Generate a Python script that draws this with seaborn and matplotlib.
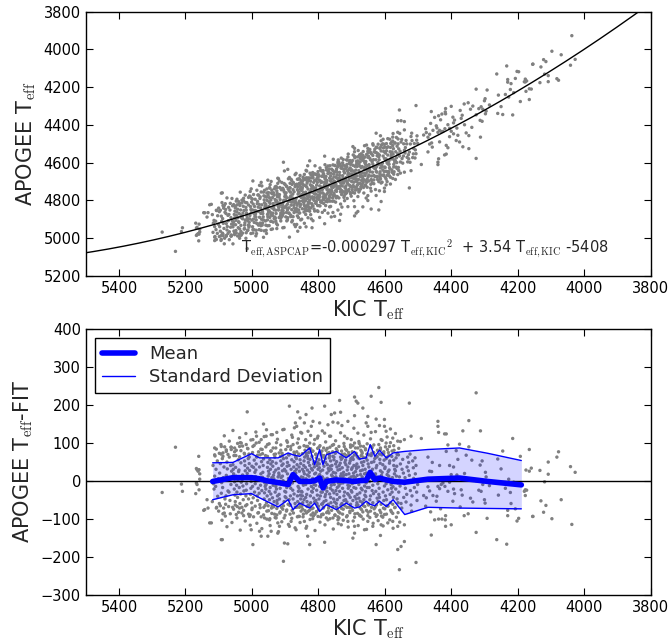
import numpy as np
import pandas as pd
import matplotlib
matplotlib.use('Agg')
import matplotlib.pyplot as plt
import seaborn as sns
from matplotlib.lines import Line2D

# ── Fit coefficients (as printed on the chart) ───────────────────────────────
fit_a, fit_b, fit_c = -0.000297, 3.54, -5408

# ── Stars: (KIC Teff, APOGEE Teff - FIT) ─────────────────────────────────────
hot_stars = [
    (5270, -31), (5230, 88), (5212, -9), (5209, -28), (5160, 64), (5167, 32),
    (5162, 25), (5157, 18), (5167, -6), (5159, -24), (5145, -78), (5127, -111),
    (5135, -50), (5089, -155), (5112, 86), (5165, 29), (5159, 29), (5157, 4),
    (5165, -10), (5169, -34), (5142, -76), (5132, -72), (5122, -111), (5092, -155),
]

outer_stars = [
    (4887, 196), (5014, 181), (4862, 181), (4965, 149), (4869, 152), (4865, 143),
    (4872, 139), (4855, 165), (4842, 152), (4837, 174), (4907, 134), (4925, 127),
    (4942, 121), (4957, 117), (4972, 108), (4987, 99), (4997, 108), (5017, 95),
    (5032, 99), (5037, 90), (5052, 86), (5082, 89), (5092, 90), (5107, 83),
    (5112, 68), (5087, 73), (5077, 77), (5062, 82), (4986, 117), (4956, 134),
    (4880, 120), (4860, 110), (4850, 125), (4895, 105),
    (4997, -168), (4905, -212), (5107, -72), (5087, -87), (5047, -89), (5037, -72),
    (5007, -94), (5002, -129), (4977, -133), (4972, -146), (4952, -146), (4942, -133),
    (4922, -111), (4917, -120), (4922, -138), (4902, -164), (4892, -166), (4947, -103),
    (4962, -98), (4927, -98), (4887, -120), (4882, -107), (4867, -129), (4857, -94),
    (4842, -107), (4832, -146), (4837, -125),
    (4691, 220), (4641, 222), (4611, 206), (4736, 211), (4681, 204), (4819, 191),
    (4781, 196), (4751, 178), (4761, 174), (4733, 180), (4666, 191), (4691, 171),
    (4651, 169), (4626, 162), (4601, 161), (4526, 204), (4816, 156), (4821, 143),
    (4831, 130), (4796, 152), (4771, 147), (4756, 154), (4741, 152), (4729, 145),
    (4711, 156), (4681, 125), (4656, 152), (4651, 143), (4641, 127), (4616, 145),
    (4601, 143), (4596, 130), (4583, 136), (4576, 112), (4561, 104), (4541, 108),
    (4521, 117), (4781, 125), (4766, 117), (4801, 117), (4811, 108), (4826, 99),
    (4836, 90), (4721, 117), (4701, 108), (4691, 99), (4611, 108), (4596, 99),
    (4618, 245), (4686, 209),
    (4831, -81), (4816, -85), (4801, -94), (4786, -89), (4771, -103), (4756, -98),
    (4741, -103), (4731, -116), (4711, -107), (4691, -120), (4671, -94), (4651, -107),
    (4636, -120), (4611, -116), (4591, -111), (4576, -107), (4561, -120), (4541, -116),
    (4626, -94), (4601, -89), (4826, -168), (4781, -162), (4696, -151), (4691, -138),
    (4661, -129), (4613, -144), (4626, -168), (4551, -173), (4561, -181), (4541, -160),
    (4556, -234), (4506, -215),
]

wing_stars = [
    (5098, 72), (5093, 95), (5087, 64), (5083, 118), (5077, 81), (5072, 69), (5068, 104), (5063, 88), (5057, 132), (5052, 76),
    (5048, 66), (5043, 98), (5037, 113), (5033, 79), (5028, 91), (5022, 70), (5018, 124), (5013, 85), (5008, 62), (5003, 107),
    (4998, 74), (4993, 93), (4988, 128), (4983, 67), (4978, 101), (4973, 83), (4968, 71), (4963, 116), (4958, 89), (4953, 64),
    (4948, 97), (4943, 78), (4938, 121), (4933, 69), (4928, 86), (4923, 109), (4918, 73), (4913, 94), (4908, 66), (4903, 135),
    (4898, 82), (4893, 101), (4888, 68), (4883, 90), (4878, 114), (4873, 75), (4868, 63), (4863, 99), (4858, 87), (4853, 127),
    (4848, 71), (4843, 92), (4838, 108), (4833, 65), (4828, 84), (4823, 119), (4818, 77), (4813, 96), (4808, 69), (4803, 112),
    (4798, 88), (4793, 73), (4788, 131), (4783, 66), (4778, 102), (4773, 85), (4768, 74), (4763, 117), (4758, 93), (4753, 62),
    (4748, 105), (4743, 79), (4738, 90), (4733, 126), (4728, 70), (4723, 98), (4718, 83), (4713, 111), (4708, 67), (4703, 94),
    (4698, 76), (4693, 138), (4688, 86), (4683, 64), (4678, 103), (4673, 91), (4668, 72), (4663, 120), (4658, 81), (4653, 97),
    (4648, 68), (4643, 110), (4638, 87), (4633, 74), (4628, 129), (4623, 63), (4618, 95), (4613, 82), (4608, 106), (4603, 71),
    (4598, 89), (4593, 115), (4588, 66), (4583, 100), (4578, 78), (4573, 92), (4568, 124), (4563, 69), (4558, 85), (4553, 103),
    (5100, -80), (5095, -66), (5090, -104), (5085, -72), (5080, -93), (5075, -121), (5070, -68), (5065, -87), (5060, -110), (5055, -75),
    (5050, -64), (5045, -98), (5040, -83), (5035, -130), (5030, -70), (5025, -92), (5020, -106), (5015, -63), (5010, -88), (5005, -117),
    (5000, -76), (4995, -95), (4990, -67), (4985, -112), (4980, -84), (4975, -71), (4970, -126), (4965, -90), (4960, -65), (4955, -101),
    (4950, -79), (4945, -118), (4940, -86), (4935, -69), (4930, -97), (4925, -73), (4920, -134), (4915, -82), (4910, -108), (4905, -66),
    (4900, -91), (4895, -77), (4890, -115), (4885, -63), (4880, -99), (4875, -85), (4870, -124), (4865, -70), (4860, -94), (4855, -110),
    (4850, -68), (4845, -88), (4840, -79), (4835, -120), (4830, -64), (4825, -102), (4820, -74), (4815, -93), (4810, -131), (4805, -81),
    (4800, -67), (4795, -109), (4790, -89), (4785, -72), (4780, -116), (4775, -84), (4770, -62), (4765, -100), (4760, -78), (4755, -127),
    (4750, -91), (4745, -69), (4740, -113), (4735, -85), (4730, -73), (4725, -104), (4720, -66), (4715, -95), (4710, -122), (4705, -80),
    (4700, -71), (4695, -106), (4690, -87), (4685, -65), (4680, -118), (4675, -92), (4670, -76), (4665, -101), (4660, -68), (4655, -128),
    (4650, -83), (4645, -97), (4640, -70), (4635, -112), (4630, -86), (4625, -64), (4620, -105), (4615, -78), (4610, -93), (4605, -119),
    (4600, -74), (4595, -88), (4590, -67), (4585, -103), (4580, -82), (4575, -125), (4570, -71), (4565, -96), (4560, -84), (4555, -109),
]

cool_stars = [
    (4325, 231), (4440, 156), (4347, 158), (4440, 143), (4438, 127), (4420, 123),
    (4415, 123), (4365, 131), (4312, 131), (4490, 111), (4215, 111), (4410, 94),
    (4375, 96), (4347, 89), (4165, 82), (4077, 76), (4245, 78), (4415, 77),
    (4385, 79), (4192, 64), (4082, 62), (4470, 62), (4355, 67), (4338, 54),
    (4307, 52), (4380, 56), (4457, 48), (4260, 57), (4108, 49), (4435, 40),
    (4405, 40), (4393, 36), (4313, 41), (4159, 33), (4175, 28), (4165, 25),
    (4133, 27), (4108, 17), (4250, 31), (4465, 25), (4459, 24), (4297, 22),
    (4295, 10), (4360, 19), (4383, 15), (4400, 16), (4425, -6), (4430, -10),
    (4419, -15), (4405, -4), (4325, 0), (4305, -10), (4285, -13), (4227, 4),
    (4212, -4), (4470, -16), (4435, -21), (4440, -15), (4465, -27), (4455, -39),
    (4443, -41), (4483, -39), (4475, -45), (4410, -28), (4393, -22), (4390, -34),
    (4370, -24), (4367, -38), (4342, -46), (4335, -56), (4317, -25), (4310, -28),
    (4300, -50), (4298, -59), (4258, -38), (4237, -20), (4222, -31), (4177, -24),
    (4173, -25), (4180, -28), (4177, -39), (4119, -3), (4445, -54), (4395, -54),
    (4477, -67), (4432, -74), (4373, -69), (4220, -60), (4207, -74), (4230, -78),
    (4130, -53), (4115, -65), (4069, -50), (4462, -82), (4361, -92), (4349, -87),
    (4230, -92), (4155, -94), (4122, -83), (4417, -92), (4450, -103), (4438, -101),
    (4428, -101), (4418, -103), (4400, -116), (4417, -120), (4292, -99), (4202, -106),
    (4197, -99), (4097, -100), (4460, -143), (4325, -136), (4263, -155), (4233, -167),
    (4041, 37), (4027, 22), (4037, -115), (4154, -94),
]

core_stars = [
    # 5120 - 5060
    (5117, 40), (5114, -22), (5112, 12), (5119, -55), (5111, 65), (5116, -8),
    (5108, 30), (5103, -41), (5101, 5), (5106, -70), (5104, 52), (5109, -15),
    (5097, 20), (5092, -33), (5095, 45), (5091, -5), (5098, -60), (5093, 70),
    (5088, -18), (5084, 36), (5081, -48), (5086, 8), (5089, 58), (5083, -85),
    (5077, 14), (5072, -27), (5075, 49), (5079, -62), (5071, 2), (5074, 31), (5078, -40),
    (5068, 62), (5063, -10), (5061, 25), (5066, -52), (5064, 40), (5069, -30), (5062, 88),
    # 5060 - 4960
    (5058, -70), (5055, 18), (5052, -3), (5057, 42), (5051, -38), (5059, 9), (5054, 66), (5053, -22), (5056, 30), (5050, -55),
    (5048, 12), (5043, -44), (5041, 55), (5046, -12), (5049, 35), (5044, -68), (5042, 2), (5047, 80), (5045, -30), (5040, 24),
    (5038, -18), (5033, 47), (5036, -60), (5031, 8), (5039, 28), (5034, -35), (5037, 63), (5032, -4), (5035, 100), (5030, -85),
    (5028, 15), (5024, -27), (5021, 40), (5026, -50), (5029, 3), (5023, 72), (5027, -14), (5022, 52), (5025, -78), (5020, 26),
    (5018, -40), (5013, 33), (5016, -8), (5011, 58), (5019, -66), (5014, 19), (5017, -25), (5012, 84), (5015, 6), (5010, -48),
    (5008, 45), (5003, -20), (5006, 10), (5001, -58), (5009, 70), (5004, -36), (5007, 27), (5002, -2), (5005, -90), (5000, 38),
    (4998, -15), (4993, 54), (4996, -45), (4991, 22), (4999, -72), (4994, 5), (4997, 90), (4992, -30), (4995, 35), (4990, -8),
    (4988, 28), (4983, -52), (4986, 62), (4981, -20), (4989, 11), (4984, -40), (4987, 44), (4982, -85), (4985, 0), (4980, 76),
    (4978, -33), (4973, 18), (4976, -63), (4971, 50), (4979, 4), (4974, -12), (4977, 36), (4972, -95), (4975, 68), (4970, -26),
    (4968, 9), (4963, -48), (4966, 40), (4961, -6), (4969, 82), (4964, -70), (4967, 22), (4962, -32), (4965, 57), (4960, -15),
    # 4960 - 4860
    (4958, -22), (4953, 35), (4956, -58), (4951, 12), (4959, 66), (4954, -40), (4957, 2), (4952, 48), (4955, -80), (4950, 25), (4957, -10), (4953, 95), (4951, -66),
    (4948, 18), (4943, -35), (4946, 55), (4941, -72), (4949, -4), (4944, 30), (4947, -50), (4942, 78), (4945, -18), (4940, 8), (4946, -100), (4943, 44), (4948, -28),
    (4938, -45), (4933, 22), (4936, -12), (4931, 62), (4939, -66), (4934, 5), (4937, 38), (4932, -88), (4935, 14), (4930, -30), (4936, 86), (4933, -55), (4938, 50),
    (4928, 28), (4924, -60), (4921, 10), (4926, -22), (4929, 70), (4923, -40), (4927, 46), (4922, -8), (4925, -90), (4920, 32), (4926, 100), (4924, -52), (4928, -15),
    (4918, -36), (4913, 52), (4916, -2), (4911, -70), (4919, 20), (4914, 64), (4917, -48), (4912, 8), (4915, -20), (4910, 40), (4916, -85), (4913, 80), (4918, 15),
    (4908, 12), (4903, -55), (4906, 44), (4901, -28), (4909, 72), (4904, -10), (4907, -75), (4902, 30), (4905, 58), (4900, -42), (4906, 0), (4903, -98), (4908, 26),
    (4898, -30), (4893, 18), (4896, 60), (4891, -62), (4899, -8), (4894, 38), (4897, -45), (4892, 90), (4895, -18), (4890, 6), (4896, -80), (4893, 48), (4898, 25),
    (4888, 40), (4883, -20), (4886, -65), (4881, 14), (4889, 68), (4884, -40), (4887, 2), (4882, 30), (4885, -88), (4880, 55), (4886, -12), (4883, 82), (4888, -50),
    (4878, -6), (4873, 50), (4876, -48), (4871, 24), (4879, -78), (4874, 36), (4877, -25), (4872, 70), (4875, 8), (4870, -60), (4876, 95), (4873, -35), (4878, 16),
    (4868, 20), (4863, -40), (4866, 58), (4861, -15), (4869, -70), (4864, 42), (4867, 4), (4862, -55), (4865, 76), (4860, -28), (4866, 30), (4863, -95), (4868, 62),
    # 4860 - 4650
    (4858, -20), (4853, 45), (4856, -62), (4851, 10), (4859, 70), (4854, -38), (4857, 25), (4852, -80), (4855, 55), (4850, -5), (4856, 88), (4853, -48), (4858, 36), (4851, -28), (4854, 2), (4857, -70),
    (4848, 30), (4843, -50), (4846, 8), (4841, 62), (4849, -30), (4844, 40), (4847, -75), (4842, 18), (4845, -12), (4840, 80), (4846, -95), (4843, 52), (4848, -40), (4841, 0), (4844, 24), (4847, -58),
    (4838, -44), (4833, 15), (4836, 66), (4831, -22), (4839, 35), (4834, -68), (4837, 5), (4832, 90), (4835, -36), (4830, 48), (4836, -85), (4833, 28), (4838, -10), (4831, 58), (4834, -55), (4837, 72),
    (4828, 12), (4823, -58), (4826, 40), (4821, -15), (4829, 74), (4824, -40), (4827, 22), (4822, -90), (4825, 56), (4820, -28), (4826, 0), (4823, 84), (4828, -66), (4821, 32), (4824, -5), (4827, -78),
    (4818, -30), (4813, 50), (4816, -72), (4811, 18), (4819, 64), (4814, -46), (4817, 6), (4812, 36), (4815, -20), (4810, -88), (4816, 78), (4813, -10), (4818, 28), (4811, -55), (4814, 44), (4817, -100),
    (4808, 20), (4803, -38), (4806, 60), (4801, -68), (4809, 2), (4804, 40), (4807, -52), (4802, 85), (4805, -25), (4800, 12), (4806, -82), (4803, 48), (4808, -12), (4801, 30), (4804, -60), (4807, 70),
    (4798, -48), (4793, 25), (4796, -15), (4791, 68), (4799, -76), (4794, 8), (4797, 44), (4792, -30), (4795, 92), (4790, -62), (4796, 16), (4793, -95), (4798, 55), (4791, -5), (4794, -40), (4797, 34),
    (4788, 10), (4783, -55), (4786, 50), (4781, -22), (4789, 78), (4784, -70), (4787, 28), (4782, -8), (4785, 62), (4780, -42), (4786, -88), (4783, 38), (4788, -30), (4781, 4), (4784, 86), (4787, -60),
    (4778, -36), (4773, 42), (4776, -2), (4771, -80), (4779, 58), (4774, 20), (4777, -52), (4772, 72), (4775, -18), (4770, 32), (4776, -98), (4773, 6), (4778, 48), (4771, -64), (4774, -28), (4777, 80),
    (4768, 26), (4763, -44), (4766, 66), (4761, -12), (4769, -72), (4764, 38), (4767, 0), (4762, -58), (4765, 88), (4760, 15), (4766, -35), (4763, 52), (4768, -85), (4761, 30), (4764, -20), (4767, 60),
    (4758, -25), (4753, 55), (4756, -68), (4751, 8), (4759, 40), (4754, -48), (4757, 76), (4752, -10), (4755, 22), (4750, -90), (4756, 64), (4753, -32), (4758, 12), (4751, -56), (4754, 95), (4757, -4),
    (4748, 44), (4743, -18), (4746, -60), (4741, 28), (4749, 72), (4744, -36), (4747, 10), (4742, -78), (4745, 50), (4740, -6), (4746, 84), (4743, -50), (4748, 20), (4741, -95), (4744, 36), (4747, -26),
    (4738, -14), (4733, 62), (4736, -44), (4731, 18), (4739, -82), (4734, 46), (4737, 2), (4732, -64), (4735, 30), (4730, 78), (4736, -28), (4733, 12), (4738, -98), (4731, 56), (4734, -8), (4737, 40),
    (4728, 34), (4723, -40), (4726, 8), (4721, 70), (4729, -60), (4724, 22), (4727, -20), (4722, 90), (4725, -75), (4720, 48), (4726, -6), (4723, -52), (4728, 60), (4721, -30), (4724, 14), (4727, -88),
    (4718, -50), (4713, 28), (4716, 66), (4711, -12), (4719, 4), (4714, -70), (4717, 42), (4712, -34), (4715, 80), (4710, -20), (4716, 16), (4713, -92), (4718, 54), (4711, 36), (4714, -56), (4717, -2),
    (4708, 18), (4703, -62), (4706, 46), (4701, -26), (4709, 74), (4704, -44), (4707, 6), (4702, 58), (4705, -84), (4700, 30), (4706, -14), (4703, 88), (4708, -38), (4701, 10), (4704, 52), (4707, -70),
    (4698, -8), (4693, 40), (4696, -52), (4691, 68), (4699, -30), (4694, 20), (4697, -78), (4692, 4), (4695, 56), (4690, -42), (4696, 92), (4693, -18), (4698, 34), (4691, -96), (4694, 12), (4697, 62),
    (4688, 24), (4683, -36), (4686, 72), (4681, -64), (4689, 8), (4684, 44), (4687, -20), (4682, -86), (4685, 32), (4680, 60), (4686, -48), (4683, 14), (4688, -4), (4681, 86), (4684, -58), (4687, 38),
    (4678, -46), (4673, 16), (4676, 58), (4671, -20), (4679, 36), (4674, -72), (4677, 2), (4672, 80), (4675, -32), (4670, 48), (4676, -90), (4673, 26), (4678, -10), (4671, 66), (4674, -54), (4677, 98),
    (4668, 10), (4663, -50), (4666, 40), (4661, -14), (4669, 76), (4664, -66), (4667, 28), (4662, -2), (4665, 62), (4660, -38), (4666, -82), (4663, 50), (4668, -24), (4661, 18), (4664, 90), (4667, -58),
    (4658, -28), (4653, 54), (4656, -6), (4651, -60), (4659, 30), (4654, 70), (4657, -42), (4652, 12), (4655, -78), (4650, 44), (4656, 20), (4653, -18), (4658, 84), (4651, -92), (4654, 4), (4657, 60),
    # 4650 - 4560
    (4648, 36), (4643, -40), (4646, 8), (4641, 66), (4649, -64), (4644, 22), (4647, -18), (4642, 90), (4645, -50), (4640, 48), (4646, -2), (4643, -80),
    (4638, -26), (4633, 50), (4636, -58), (4631, 14), (4639, 72), (4634, -34), (4637, 30), (4632, -74), (4635, 4), (4630, 58), (4636, -12), (4633, 94),
    (4628, 18), (4623, -46), (4626, 62), (4621, -8), (4629, -70), (4624, 40), (4627, -28), (4622, 80), (4625, 10), (4620, -54), (4626, 34), (4623, -90),
    (4618, -36), (4613, 26), (4616, 70), (4611, -62), (4619, 4), (4614, 46), (4617, -20), (4612, -84), (4615, 56), (4610, 14), (4616, -44), (4613, 86),
    (4608, 22), (4603, -52), (4606, 42), (4601, -14), (4609, 68), (4604, -72), (4607, 6), (4602, 54), (4605, -30), (4600, 32), (4606, -96), (4603, 76),
    (4598, -40), (4593, 16), (4596, 58), (4591, -24), (4599, 36), (4594, -66), (4597, 0), (4592, 82), (4595, -50), (4590, 24), (4596, -8), (4593, 62),
    (4588, 12), (4583, -58), (4586, 46), (4581, -10), (4589, 74), (4584, -36), (4587, 28), (4582, -78), (4585, 52), (4580, -20), (4586, 90), (4583, 4),
    (4578, -30), (4573, 40), (4576, -62), (4571, 18), (4579, 64), (4574, -44), (4577, 8), (4572, 80), (4575, -16), (4570, 30), (4576, -86), (4573, 54),
    (4568, 26), (4563, -48), (4566, 60), (4561, -6), (4569, -70), (4564, 38), (4567, -22), (4562, 72), (4565, 12), (4560, -58),
    # 4560 - 4500
    (4558, -30), (4553, 44), (4556, 10), (4551, -60), (4559, 68), (4554, -14),
    (4548, 30), (4543, -44), (4546, 56), (4541, -8), (4549, -72), (4544, 20),
    (4538, -20), (4533, 36), (4536, -56), (4531, 62), (4539, 8), (4534, -36),
    (4528, 48), (4523, -26), (4526, 14), (4521, -64), (4529, 26), (4524, 70),
    (4518, -40), (4513, 6), (4516, 52), (4511, -18), (4519, -80), (4514, 34),
    (4508, 18), (4503, -52), (4506, 40), (4501, -10), (4509, 60), (4504, -30),
]

# ── Binned mean and ±1 sigma envelope (lower panel) ──────────────────────────
bin_teff = [5118, 5057, 5001, 4977, 4956, 4921, 4891, 4876, 4856, 4826, 4811, 4796,
            4786, 4776, 4746, 4716, 4691, 4676, 4656, 4644, 4630, 4616, 4595, 4575,
            4540, 4470, 4375, 4290, 4189]
bin_mean = [-2, 8, 8, 5, 0, -5, -10, 16, -2, -2, 0, 7,
            -19, -2, 2, 0, -2, 0, 1, 22, 3, 7, 2, -2,
            -4, 4, 7, -2, -11]
bin_upper = [47, 48, 71, 60, 60, 60, 73, 68, 64, 86, 42, 82,
             42, 68, 77, 60, 77, 57, 60, 95, 64, 80, 60, 73,
             77, 82, 86, 72, 53]
bin_lower = [-50, -37, -34, -45, -54, -69, -50, -76, -59, -72, -59, -81,
             -72, -63, -76, -59, -72, -69, -54, -62, -66, -54, -68, -50,
             -89, -70, -72, -73, -74]

# ── Tablas ───────────────────────────────────────────────────────────────────
stars = pd.DataFrame(hot_stars + outer_stars + wing_stars + core_stars + cool_stars,
                     columns=['kic_teff', 'resid'])
stars['fit'] = fit_a * stars['kic_teff']**2 + fit_b * stars['kic_teff'] + fit_c
stars['apogee_teff'] = stars['fit'] + stars['resid']

curve = pd.DataFrame({'kic_teff': np.linspace(3800, 5500, 300)})
curve['fit'] = fit_a * curve['kic_teff']**2 + fit_b * curve['kic_teff'] + fit_c

bins = pd.DataFrame({'kic_teff': bin_teff, 'mean': bin_mean,
                     'upper': bin_upper, 'lower': bin_lower})

# ── Estilo ───────────────────────────────────────────────────────────────────
sns.set_style('ticks')
plt.rcParams.update({
    'font.family': ['DejaVu Sans'],
    'mathtext.fontset': 'cm',
    'axes.edgecolor': 'black',
    'axes.linewidth': 1.0,
    'xtick.direction': 'in', 'ytick.direction': 'in',
    'xtick.top': True, 'ytick.right': True,
    'xtick.major.size': 5, 'ytick.major.size': 5,
    'xtick.color': 'black', 'ytick.color': 'black',
    'xtick.labelsize': 10.5, 'ytick.labelsize': 10.5,
})

fig = plt.figure(figsize=(6.7, 6.43), dpi=100)
ax1 = fig.add_axes([0.128, 0.571, 0.843, 0.411])
ax2 = fig.add_axes([0.128, 0.075, 0.843, 0.414])

dot_color = '#808080'
xticks = list(range(3800, 5401, 200))

# ── Panel superior: APOGEE vs KIC ────────────────────────────────────────────
sns.scatterplot(data=stars, x='kic_teff', y='apogee_teff', ax=ax1, s=6,
                color=dot_color, edgecolor='none', linewidth=0, legend=False)
sns.lineplot(data=curve, x='kic_teff', y='fit', ax=ax1, color='black',
             linewidth=1, sort=False)
ax1.set_xlim(5500, 3800)
ax1.set_ylim(5200, 3800)
ax1.set_xticks(xticks)
ax1.set_yticks(list(range(3800, 5201, 200)))
ax1.set_xlabel(r'KIC T$_{\rm eff}$', fontsize=15, labelpad=2)
ax1.set_ylabel(r'APOGEE T$_{\rm eff}$', fontsize=15)
ax1.text(5032, 5075,
         r'T$_{\rm eff,ASPCAP}$=-0.000297 T$_{\rm eff,KIC}$$^{2}$  + 3.54 T$_{\rm eff,KIC}$ -5408',
         fontsize=10.5, ha='left', va='baseline')

# ── Panel inferior: residuos ─────────────────────────────────────────────────
sns.scatterplot(data=stars, x='kic_teff', y='resid', ax=ax2, s=6,
                color=dot_color, edgecolor='none', linewidth=0, legend=False)
ax2.fill_between(bins['kic_teff'], bins['lower'], bins['upper'],
                 color='blue', alpha=0.17, linewidth=0, zorder=3)
ax2.axhline(0, color='black', linewidth=1, zorder=4)
sns.lineplot(data=bins, x='kic_teff', y='upper', ax=ax2, color='blue',
             linewidth=1, sort=False, zorder=5)
sns.lineplot(data=bins, x='kic_teff', y='lower', ax=ax2, color='blue',
             linewidth=1, sort=False, zorder=5)
sns.lineplot(data=bins, x='kic_teff', y='mean', ax=ax2, color='blue',
             linewidth=4, sort=False, zorder=6)
ax2.set_xlim(5500, 3800)
ax2.set_ylim(-300, 400)
ax2.set_xticks(xticks)
ax2.set_yticks(list(range(-300, 401, 100)))
ax2.set_xlabel(r'KIC T$_{\rm eff}$', fontsize=15, labelpad=2)
ax2.set_ylabel(r'APOGEE T$_{\rm eff}$-FIT', fontsize=15)

handles = [Line2D([], [], color='blue', linewidth=4),
           Line2D([], [], color='blue', linewidth=1)]
leg = ax2.legend(handles, ['Mean', 'Standard Deviation'], loc='upper left',
                 fontsize=13, fancybox=False, framealpha=1, handlelength=1.8,
                 borderpad=0.4, labelspacing=0.3)
leg.get_frame().set_edgecolor('black')
leg.get_frame().set_linewidth(1)

fig.savefig('out.png', dpi=100)
